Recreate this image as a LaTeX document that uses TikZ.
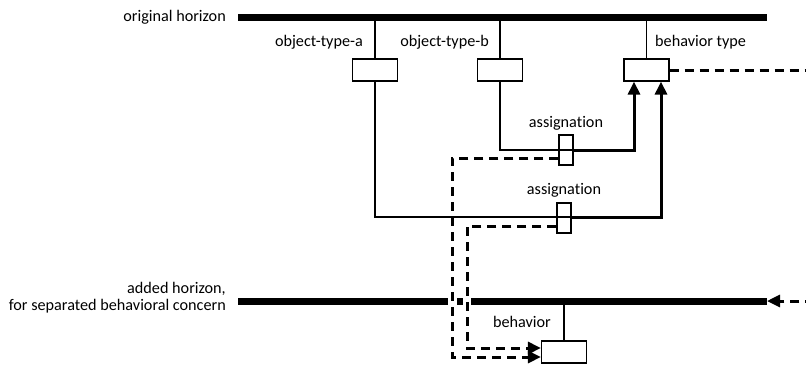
\documentclass[tikz,border=0pt]{standalone}
\usepackage{fontspec}
\setmainfont{Carlito}[Ligatures={NoCommon}]
\usetikzlibrary{arrows.meta}
\begin{document}
\begin{tikzpicture}[x=1pt,y=-1pt,
  lbl/.style={font=\fontsize{16.2}{17}\selectfont, inner sep=0pt},
  bar/.style={line width=7pt},
  thinln/.style={line width=1.2pt},
  thickln/.style={line width=3pt},
  dsh/.style={line width=3pt, dash pattern=on 9pt off 6pt},
  box/.style={draw, line width=1.2pt, fill=white, minimum width=45pt, minimum height=22pt, inner sep=0pt},
  abox/.style={draw, line width=1.2pt, minimum width=14pt, minimum height=30pt, inner sep=0pt},
  tip/.style={-{Triangle[length=13pt,width=12pt]}}
]
\useasboundingbox (0,0) rectangle (806,365);
% horizons
\coordinate (oh1) at (238,17); \coordinate (oh2) at (767,17);
\coordinate (ah1) at (238,301); \coordinate (ah2) at (767,301);
\draw[bar] (oh1) -- (oh2);
\draw[bar] (ah1) -- (ah2);
\node[lbl, anchor=east] (ohl) at (226,17) {original horizon};
\node[lbl, anchor=east, align=right] (ahl) at (226,298) {added horizon,\\for separated behavioral concern};
% boxes
\node[box] (ba) at (375,70) {};
\node[box] (bb) at (500,70) {};
\node[box] (bt) at (646.5,70) {};
\node[box] (bh) at (564,352) {};
\node[abox] (as1) at (566,150) {};
\node[abox] (as2) at (564,218) {};
% labels
\node[lbl, anchor=east] (la) at (363,42) {object-type-a};
\node[lbl, anchor=east] (lb) at (489,42) {object-type-b};
\node[lbl, anchor=west] (lt) at (655,42) {behavior type};
\node[lbl] (l1) at (566,123) {assignation};
\node[lbl] (l2) at (564,190) {assignation};
\node[lbl, anchor=east] (lh) at (551,322) {behavior};
% vertical stems
\coordinate (sa) at (ba.north |- oh1);
\coordinate (sb) at (bb.north |- oh1);
\coordinate (st) at (bt.north |- oh1);
\coordinate (sh) at (bh.north |- ah1);
\draw[thinln] (sa) -- (ba.north);
\draw[thinln] (sb) -- (bb.north);
\draw[thinln] (st) -- (bt.north);
\draw[thinln] (sh) -- (bh.north);
% assignation paths
\coordinate (c1) at (634,150);
\coordinate (c2) at (661,217);
\draw[thinln] (bb.south) |- (as1.east |- c1);
\draw[thickln, tip] (as1.east |- c1) -- (c1) -- (c1 |- bt.south);
\draw[thinln] (ba.south) |- (as2.east |- c2);
\draw[thickln, tip] (as2.east |- c2) -- (c2) -- (c2 |- bt.south);
% hops in the added horizon
\draw[white, line width=9pt] (452,296) -- (452,306);
\draw[white, line width=8pt] (467,296) -- (467,306);
% dashed paths to behavior
\draw[dsh, tip] ([yshift=7pt]as1.south west) -| (452,357) -- ([yshift=-5pt]bh.west);
\draw[dsh, tip] ([yshift=7pt]as2.south west) -| (467,348) -- ([yshift=4pt]bh.west);
% dashed path to added horizon (its vertical run lies past the right edge)
\coordinate (r1) at (814,70);
\coordinate (r2) at (814,301);
\draw[dsh, tip] (bt.east) -- (r1) -- (r2) -- (ah2);
\end{tikzpicture}
\end{document}
